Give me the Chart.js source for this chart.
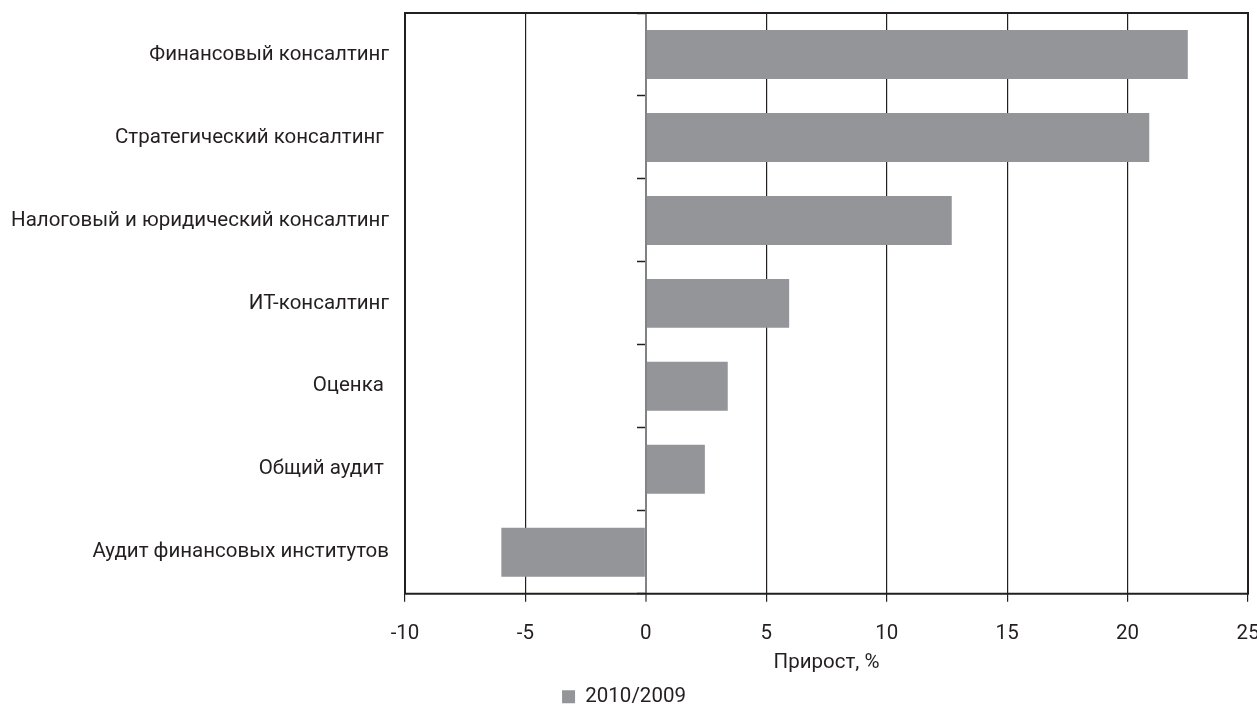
<!DOCTYPE html>
<html lang="ru">
<head>
<meta charset="utf-8">
<title>Прирост, %</title>
<script src="https://cdn.jsdelivr.net/npm/chart.js@4/dist/chart.umd.min.js"></script>
<style>
  html, body { margin: 0; padding: 0; background: #fff; }
  #wrap { width: 1257px; height: 705px; position: relative; }
</style>
</head>
<body>
<div id="wrap"><canvas id="chart"></canvas></div>
<script>
// Категории (сверху вниз) и прирост 2010/2009, %
const categories = [
  'Финансовый консалтинг',
  'Стратегический консалтинг ',
  'Налоговый и юридический консалтинг',
  'ИТ-консалтинг',
  'Оценка ',
  'Общий аудит ',
  'Аудит финансовых институтов'
];
const growth2010 = [22.5, 20.9, 12.7, 5.95, 3.4, 2.45, -6.0];
const seriesName = '2010/2009';
const axisTitle = 'Прирост, %';
const xMin = -10, xMax = 25, xStep = 5;

const FONT = "Roboto, 'Open Sans', sans-serif";
const FS = 20.5;
const TEXT = '#231f20';
const BAR = '#939598';

// Рамка области построения
const frame = {
  id: 'frame',
  afterDraw(chart) {
    const { ctx, chartArea: a } = chart;
    ctx.save();
    ctx.strokeStyle = '#231f20';
    ctx.lineWidth = 2;
    ctx.strokeRect(a.left, a.top, a.right - a.left, a.bottom - a.top);
    ctx.restore();
  }
};

const noEdgePadding = (scale) => {
  scale.paddingLeft = 0; scale.paddingRight = 0;
  scale.paddingTop = 0; scale.paddingBottom = 0;
};

new Chart(document.getElementById('chart'), {
  type: 'bar',
  data: {
    labels: categories,
    datasets: [{
      label: seriesName,
      data: growth2010,
      backgroundColor: BAR,
      borderWidth: 0,
      categoryPercentage: 1,
      barPercentage: 0.59
    }]
  },
  options: {
    indexAxis: 'y',
    responsive: true,
    maintainAspectRatio: false,
    animation: false,
    layout: { padding: { left: 0, right: 9, top: 13, bottom: -12 } },
    plugins: {
      tooltip: { enabled: false },
      legend: {
        position: 'bottom',
        labels: {
          color: TEXT,
          font: { family: FONT, size: FS },
          boxWidth: 13,
          boxHeight: 13,
          padding: 2
        }
      }
    },
    scales: {
      x: {
        type: 'linear',
        min: xMin,
        max: xMax,
        ticks: {
          stepSize: xStep,
          color: TEXT,
          font: { family: FONT, size: FS },
          padding: 20
        },
        grid: {
          color: (c) => (c.tick && c.tick.value === 0) ? '#808285' : '#231f20',
          lineWidth: (c) => (c.tick && c.tick.value === 0) ? 2 : 1.2,
          tickLength: 8
        },
        border: { display: false },
        title: {
          display: true,
          text: axisTitle,
          color: TEXT,
          font: { family: FONT, size: FS },
          padding: { top: 0, bottom: 9.5 }
        },
        afterFit(scale) { noEdgePadding(scale); scale.height = 90.75; }
      },
      y: {
        type: 'category',
        position: 'left',
        offset: true,
        grid: { display: false, drawTicks: false },
        border: { display: false },
        ticks: {
          color: TEXT,
          font: { family: FONT, size: FS },
          padding: 16
        },
        afterFit(scale) { noEdgePadding(scale); scale.width = 405; }
      },
      // Ось категорий, проходящая через ноль, с делениями между категориями
      y0: {
        type: 'category',
        position: { x: 0 },
        offset: true,
        z: 1,
        grid: {
          offset: true,
          drawOnChartArea: false,
          drawTicks: true,
          tickLength: 8,
          tickColor: '#231f20',
          tickWidth: 1.5
        },
        border: { display: true, color: '#808285', width: 2 },
        ticks: { display: false },
        afterFit: noEdgePadding
      }
    }
  },
  plugins: [frame]
});
</script>
</body>
</html>
